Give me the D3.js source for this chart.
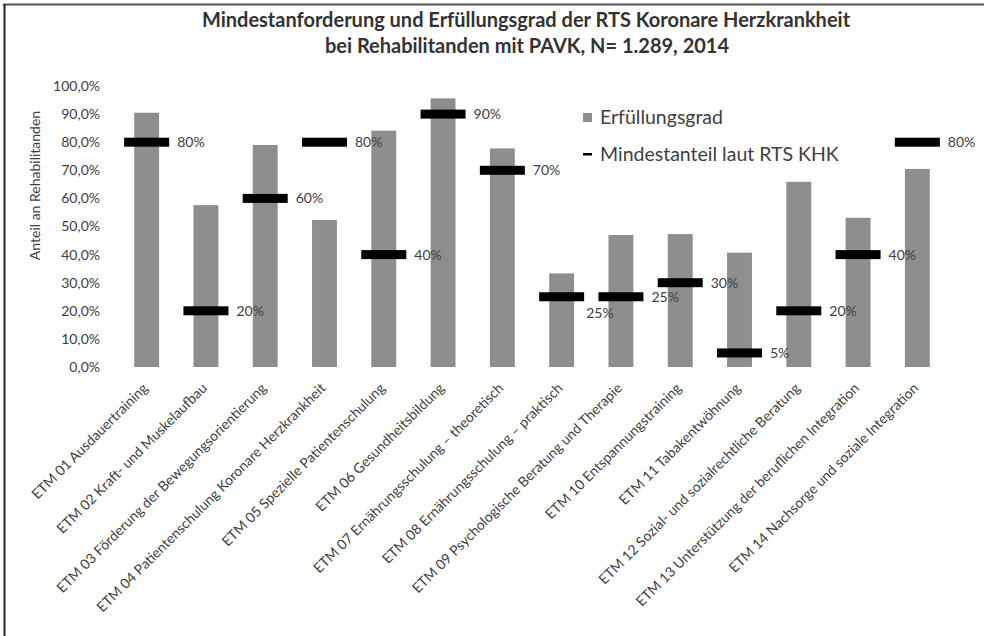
<!DOCTYPE html>
<html>
<head>
<meta charset="utf-8">
<script src="https://cdn.jsdelivr.net/npm/d3@7/dist/d3.min.js"></script>
<style>
  html, body { margin: 0; padding: 0; background: #fff; overflow: hidden; }
  svg { display: block; }
  text { font-family: Lato, "Open Sans", sans-serif; fill: #404040; }
  .title { font-weight: bold; font-size: 20px; fill: #333; }
</style>
</head>
<body>
<svg width="984" height="636"></svg>
<script>
const categories = [
  'ETM 01 Ausdauertraining',
  'ETM 02 Kraft- und Muskelaufbau',
  'ETM 03 Förderung der Bewegungsorientierung',
  'ETM 04 Patientenschulung Koronare Herzkrankheit',
  'ETM 05 Spezielle Patientenschulung',
  'ETM 06 Gesundheitsbildung',
  'ETM 07 Ernährungsschulung \u2013 theoretisch',
  'ETM 08 Ernährungsschulung \u2013 praktisch',
  'ETM 09 Psychologische Beratung und Therapie',
  'ETM 10 Entspannungstraining',
  'ETM 11 Tabakentwöhnung',
  'ETM 12 Sozial- und sozialrechtliche Beratung',
  'ETM 13 Unterstützung der beruflichen Integration',
  'ETM 14 Nachsorge und soziale Integration'
];
const erfuellung = [90.5, 57.6, 79.0, 52.3, 84.1, 95.6, 77.8, 33.3, 47.0, 47.3, 40.7, 65.9, 53.1, 70.5];
const mindest = [80, 20, 60, 80, 40, 90, 70, 25, 25, 30, 5, 20, 40, 80];
const yTicks = [0, 10, 20, 30, 40, 50, 60, 70, 80, 90, 100];

const svg = d3.select('svg');
const width = +svg.attr('width');
const height = +svg.attr('height');

// frame (top and left edge only, like the scan)
svg.append('line').attr('x1', 3).attr('x2', width).attr('y1', 4.5).attr('y2', 4.5)
  .attr('stroke', '#555').attr('stroke-width', 2);
svg.append('line').attr('x1', 4.5).attr('x2', 4.5).attr('y1', 4).attr('y2', height)
  .attr('stroke', '#222').attr('stroke-width', 2);

const margin = { top: 86, left: 117, right: 37, bottom: 269 };
const innerWidth = width - margin.left - margin.right;
const innerHeight = height - margin.top - margin.bottom;

const g = svg.append('g').attr('transform', `translate(${margin.left},${margin.top})`);

const xScale = d3.scaleBand().domain(categories).range([0, innerWidth])
  .paddingInner(0.58).paddingOuter(0.29);
const yScale = d3.scaleLinear().domain([0, 100]).range([innerHeight, 0]);

const fmt = v => d3.format('.1f')(v).replace('.', ',') + '%';

const yAxisG = g.append('g')
  .call(d3.axisLeft(yScale).tickValues(yTicks).tickFormat(fmt).tickSize(0).tickPadding(17));
yAxisG.select('.domain').remove();
yAxisG.selectAll('text').style('font-size', '14px').style('font-family', 'Lato, sans-serif').attr('fill', '#404040');

g.append('text')
  .attr('transform', `translate(${-77},${innerHeight / 2 - 41}) rotate(-90)`)
  .attr('text-anchor', 'middle')
  .style('font-size', '14px')
  .text('Anteil an Rehabilitanden');

// bars
g.selectAll('rect.bar').data(categories)
  .enter().append('rect')
    .attr('class', 'bar')
    .attr('x', d => xScale(d))
    .attr('y', (d, i) => yScale(erfuellung[i]))
    .attr('width', xScale.bandwidth())
    .attr('height', (d, i) => innerHeight - yScale(erfuellung[i]))
    .attr('fill', '#8e8e8e');

// Mindestanteil markers
const markW = 45;
g.selectAll('rect.mark').data(categories)
  .enter().append('rect')
    .attr('class', 'mark')
    .attr('x', d => xScale(d) + xScale.bandwidth() / 2 - markW / 2)
    .attr('y', (d, i) => yScale(mindest[i]) - 4.5)
    .attr('width', markW)
    .attr('height', 9)
    .attr('fill', '#000');

// labels, 8th one pushed below like in the original
const labelDy = [0, 0, 0, 0, 0, 0, 0, 16, 0, 0, 0, 0, 0, 0];
const labelDx = [0, 0, 0, 0, 0, 0, 0, -6, 0, 0, 0, 0, 0, 0];
g.selectAll('text.lab').data(categories)
  .enter().append('text')
    .attr('class', 'lab')
    .attr('x', (d, i) => xScale(d) + xScale.bandwidth() / 2 + markW / 2 + 8 + labelDx[i])
    .attr('y', (d, i) => yScale(mindest[i]) + 5 + labelDy[i])
    .style('font-size', '14px')
    .text((d, i) => mindest[i] + '%');

// x labels
const xAxisG = g.append('g').attr('transform', `translate(0,${innerHeight})`)
  .call(d3.axisBottom(xScale).tickSize(0).tickPadding(0));
xAxisG.select('.domain').remove();
xAxisG.selectAll('text')
  .attr('text-anchor', 'end')
  .attr('dy', null)
  .attr('y', 0)
  .attr('transform', 'translate(2,22) rotate(-45)')
  .style('font-size', '14px')
  .style('font-family', 'Lato, sans-serif')
  .attr('fill', '#404040');

// legend
const legend = svg.append('g').attr('transform', 'translate(583,0)');
legend.append('rect').attr('x', 0).attr('y', 113).attr('width', 9).attr('height', 9).attr('fill', '#8e8e8e');
legend.append('text').attr('x', 17).attr('y', 124).style('font-size', '19.5px').text('Erfüllungsgrad');
legend.append('rect').attr('x', 0).attr('y', 153).attr('width', 9).attr('height', 2.5).attr('fill', '#000');
legend.append('text').attr('x', 17).attr('y', 161).style('font-size', '19.5px').text('Mindestanteil laut RTS KHK');

// title
svg.append('text').attr('class', 'title').attr('x', 526).attr('y', 27).attr('text-anchor', 'middle')
  .text('Mindestanforderung und Erfüllungsgrad der RTS Koronare Herzkrankheit');
svg.append('text').attr('class', 'title').attr('x', 527).attr('y', 53).attr('text-anchor', 'middle')
  .text('bei Rehabilitanden mit PAVK, N= 1.289, 2014');
</script>
</body>
</html>
